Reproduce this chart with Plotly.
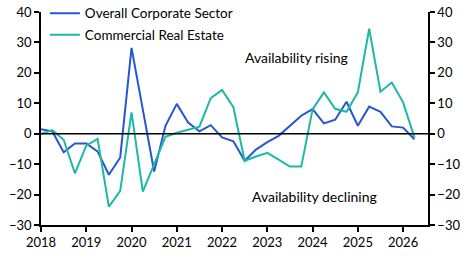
import plotly.graph_objects as go

quarters = [2018 + 0.25 * i for i in range(34)]
overall = [1.5, 0.8, -6.1, -3.2, -3.2, -5.8, -13.5, -7.8, 28.2, 7.9, -12.4, 2.6, 9.8, 3.7, 0.8, 2.8,
           -1.2, -2.5, -8.9, -5.2, -2.8, -0.7, 2.6, 5.9, 8.1, 3.4, 4.6, 10.5, 2.6, 8.9, 7.2, 2.4, 2.0, -1.8]
cre = [-0.1, 1.2, -2.0, -13.0, -3.9, -1.7, -24.0, -18.8, 7.0, -19.0, -10.0, -1.0, 0.3, 1.2, 2.3, 11.7,
       14.4, 8.7, -8.9, -7.5, -6.3, -8.5, -10.8, -10.8, 8.0, 13.6, 8.2, 7.2, 13.6, 34.5, 13.8, 16.8, 10.3, -1.2]
year_ticks = [2018, 2019, 2020, 2021, 2022, 2023, 2024, 2025, 2026]
y_ticks = [-30, -20, -10, 0, 10, 20, 30, 40]

FONT = "Lato"
BLUE = "#2457d0"
TEAL = "#1cb9a6"

fig = go.Figure()
fig.add_trace(go.Scatter(x=quarters, y=overall, mode="lines", name="Overall Corporate Sector",
                         legendgroup="a", line=dict(color=BLUE, width=2)))
fig.add_trace(go.Scatter(x=quarters, y=cre, mode="lines", name="Commercial Real Estate",
                         legendgroup="b", line=dict(color=TEAL, width=2)))
fig.add_trace(go.Scatter(x=[None], y=[None], yaxis="y2", showlegend=False, hoverinfo="skip"))

axis_common = dict(range=[-30, 40], tickvals=y_ticks, showgrid=False, zeroline=False,
                   showline=True, linecolor="black", linewidth=1.5, ticks="outside",
                   ticklen=5, tickcolor="black", tickwidth=1.5, automargin=False,
                   tickfont=dict(family=FONT, size=13, color="black"))

fig.update_layout(
    width=471, height=256,
    margin=dict(l=41, r=43, t=12, b=31, autoexpand=False),
    paper_bgcolor="white", plot_bgcolor="white",
    font=dict(family=FONT, size=13, color="black"),
    xaxis=dict(range=[2018, 2026.55], tickvals=year_ticks, ticktext=[str(y) for y in year_ticks],
               showgrid=False, zeroline=False, showline=True, linecolor="black", linewidth=1.5,
               ticks="outside", ticklen=5, tickcolor="black", tickwidth=1.5, automargin=False,
               tickfont=dict(family=FONT, size=13, color="black")),
    yaxis=dict(side="left", **axis_common),
    yaxis2=dict(side="right", overlaying="y", **axis_common),
    legend=dict(x=0.01, y=1.066, xanchor="left", yanchor="top",
                bgcolor="rgba(0,0,0,0)", font=dict(family=FONT, size=13.5, color="black"),
                tracegroupgap=1, itemwidth=30),
    showlegend=True,
    shapes=[dict(type="line", xref="paper", x0=0, x1=1, yref="y", y0=0, y1=0,
                 line=dict(color="black", width=1.5))],
    annotations=[
        dict(x=2023.64, y=25, xref="x", yref="y", text="Availability rising", showarrow=False,
             font=dict(family=FONT, size=14, color="black")),
        dict(x=2024.04, y=-20.7, xref="x", yref="y", text="Availability declining", showarrow=False,
             font=dict(family=FONT, size=14, color="black")),
    ],
)

fig.write_html("out.html")
